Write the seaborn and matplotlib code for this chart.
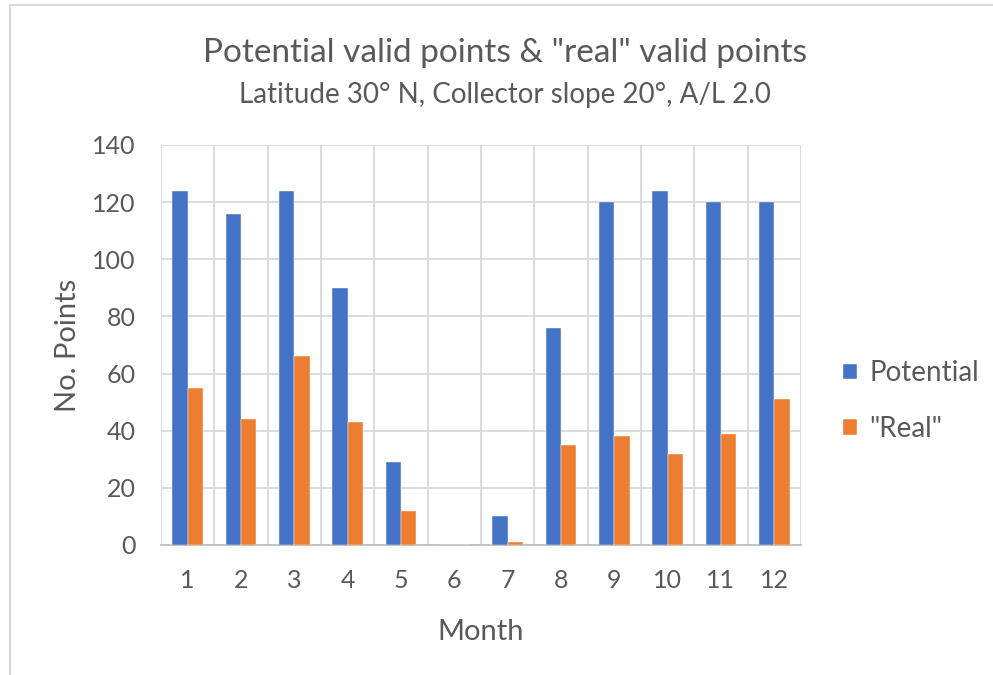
import numpy as np
import pandas as pd
import matplotlib
matplotlib.use("Agg")
import matplotlib.pyplot as plt
from matplotlib.ticker import MultipleLocator
import seaborn as sns

# --- values ---
months = [str(m) for m in range(1, 13)]
potential = [124, 116, 124, 90, 29, 0, 10, 76, 120, 124, 120, 120]
real = [55, 44, 66, 43, 12, 0, 1, 35, 38, 32, 39, 51]
series_names = ["Potential", '"Real"']
colors = ["#4472C4", "#ED7D31"]

df = pd.DataFrame({
    "Month": months * 2,
    "Points": potential + real,
    "Series": [series_names[0]] * 12 + [series_names[1]] * 12,
})

sns.set_style("white")
plt.rcParams["font.family"] = ["Lato", "DejaVu Sans"]
TXT = "#595959"
GRID = "#D9D9D9"

fig = plt.figure(figsize=(9.93, 6.75), dpi=100)
ax = fig.add_axes([0.162, 0.1926, 0.6445, 0.5926])

sns.barplot(data=df, x="Month", y="Points", hue="Series", order=months,
            hue_order=series_names, palette=colors, saturation=1, width=0.575,
            edgecolor="#ffffff", linewidth=0.3, ax=ax, zorder=3)

ax.set_ylim(0, 140)
ax.set_xlim(-0.5, 11.5)
ax.yaxis.set_major_locator(MultipleLocator(20))
ax.set_xticks(np.arange(-0.5, 12, 1), minor=True)
ax.grid(axis="y", which="major", color=GRID, linewidth=1.3, zorder=0)
ax.grid(axis="x", which="minor", color=GRID, linewidth=1.3, zorder=0)
ax.grid(axis="x", which="major", visible=False)
for s in ["top", "right", "left"]:
    ax.spines[s].set_visible(False)
ax.spines["bottom"].set_color("#BFBFBF")
ax.spines["bottom"].set_linewidth(1.3)
ax.tick_params(axis="both", which="both", length=0, colors=TXT, labelsize=18)
ax.tick_params(axis="x", pad=17)
ax.tick_params(axis="y", pad=18)

ax.set_xlabel("Month", fontsize=21, color=TXT, labelpad=20)
ax.set_ylabel("No. Points", fontsize=21, color=TXT, labelpad=8)

fig.text(0.509, 0.922, 'Potential valid points & "real" valid points',
         ha="center", va="center", fontsize=24, color=TXT)
fig.text(0.509, 0.860, "Latitude 30° N, Collector slope 20°, A/L 2.0",
         ha="center", va="center", fontsize=20, color=TXT)

leg = ax.legend(loc="center left", bbox_to_anchor=(1.066, 0.36), frameon=False,
                fontsize=20, handlelength=0.5, handleheight=0.5,
                labelspacing=1.05, handletextpad=0.45,
                borderaxespad=0, borderpad=0)
for t in leg.get_texts():
    t.set_color(TXT)

# light border of the chart area
fig.add_artist(plt.Line2D([0.010, 0.010], [0.0, 0.993], color=GRID, lw=1.5))
fig.add_artist(plt.Line2D([0.010, 1.0], [0.993, 0.993], color=GRID, lw=1.5))

fig.savefig("out.png", dpi=100)
